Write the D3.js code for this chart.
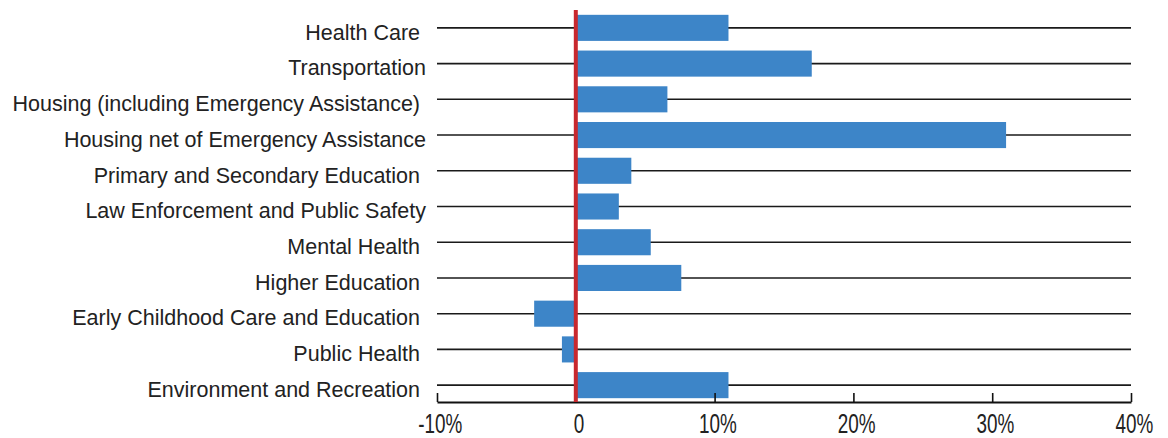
<!DOCTYPE html>
<html>
<head>
<meta charset="utf-8">
<script src="https://cdn.jsdelivr.net/npm/d3@7/dist/d3.min.js"></script>
<style>
  html, body { margin: 0; padding: 0; background: #fff; }
  svg { display: block; }
  .cat { font-family: "Liberation Sans", Arial, sans-serif; font-size: 21.5px; fill: #222; white-space: pre; }
  .tick text { font-family: "Liberation Sans", Arial, sans-serif; font-size: 27px; fill: #222; }
</style>
</head>
<body>
<svg id="chart" width="1168" height="438"></svg>
<script>
const categories = [
  "Health Care ",
  "Transportation",
  "Housing (including Emergency Assistance) ",
  "Housing net of Emergency Assistance",
  "Primary and Secondary Education ",
  "Law Enforcement and Public Safety",
  "Mental Health ",
  "Higher Education ",
  "Early Childhood Care and Education ",
  "Public Health ",
  "Environment and Recreation "
];
const values = [11.0, 17.0, 6.6, 31.0, 4.0, 3.1, 5.4, 7.6, -3.0, -1.0, 11.0];
const tickValues = [-10, 0, 10, 20, 30, 40];
const tickLabels = ["-10%", "0", "10%", "20%", "30%", "40%"];

const svg = d3.select("#chart");
const x = d3.scaleLinear().domain([-10, 40]).range([437, 1131]);
const y = d3.scaleBand().domain(categories).range([10, 403]).paddingInner(0.27).paddingOuter(0.135);

// grid lines at category centers
svg.append("g").selectAll("line").data(categories).join("line")
  .attr("x1", x(-10)).attr("x2", x(40))
  .attr("y1", d => y(d) + y.bandwidth() / 2)
  .attr("y2", d => y(d) + y.bandwidth() / 2)
  .attr("stroke", "#1a1a1a").attr("stroke-width", 1.6);

// bars
svg.append("g").selectAll("rect").data(values).join("rect")
  .attr("x", d => x(Math.min(0, d)))
  .attr("width", d => Math.abs(x(d) - x(0)))
  .attr("y", (d, i) => y(categories[i]))
  .attr("height", y.bandwidth())
  .attr("fill", "#3d85c8");

// category labels
svg.append("g").selectAll("text").data(categories).join("text")
  .attr("class", "cat")
  .attr("x", 426)
  .attr("y", d => y(d) + y.bandwidth() / 2 + 4)
  .attr("dy", "0.36em")
  .attr("text-anchor", "end")
  .text(d => d);

// x axis
const axis = d3.axisBottom(x)
  .tickValues(tickValues)
  .tickFormat((d, i) => tickLabels[i])
  .tickSizeInner(-9)
  .tickSizeOuter(0)
  .tickPadding(12);
const gx = svg.append("g").attr("transform", "translate(0,402)").call(axis);
gx.select(".domain").attr("stroke", "#111").attr("stroke-width", 2.2);
gx.selectAll(".tick line").attr("stroke", "#111").attr("stroke-width", 1.6);
gx.selectAll(".tick text").attr("dx", 4)
  .attr("transform", "scale(0.7,1)")
  .attr("fill", d => d === 0 ? "#d0343a" : "#222");

// zero line
svg.append("line")
  .attr("x1", x(0)).attr("x2", x(0))
  .attr("y1", 10).attr("y2", 402)
  .attr("stroke", "#c8282e").attr("stroke-width", 4);
</script>
</body>
</html>
